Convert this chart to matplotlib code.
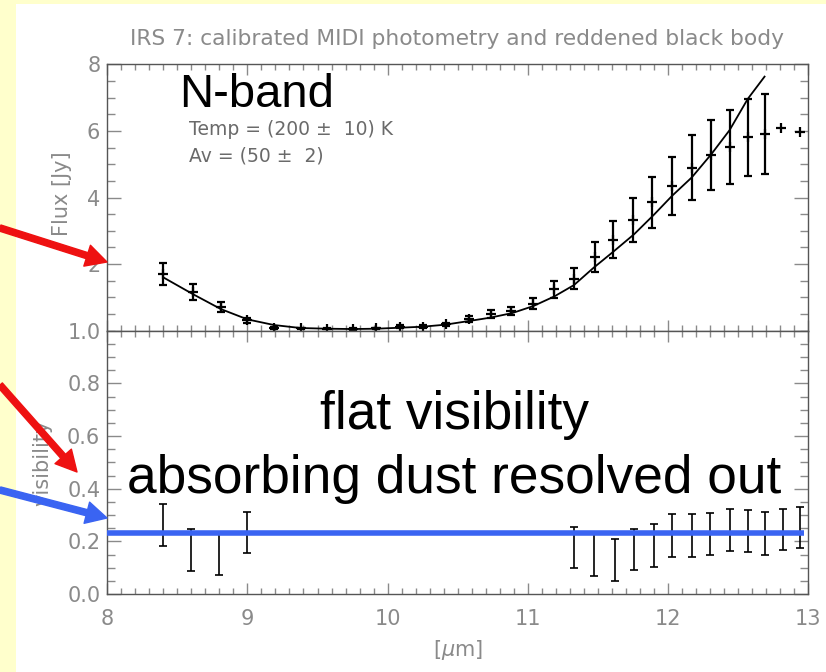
"""IRS 7 MIDI photometry with a reddened black body fit, and visibility"""

import numpy as np
import matplotlib
matplotlib.use("Agg")
from matplotlib import pyplot as plt
from matplotlib.patches import Rectangle, FancyArrowPatch
from matplotlib.ticker import MultipleLocator, FixedLocator

# Calibrated photometry (wavelength in micron, flux in Jy)
wave_phot = [8.40, 8.61, 8.81, 9.00, 9.19, 9.38, 9.57, 9.75, 9.92, 10.09,
             10.25, 10.42, 10.58, 10.74, 10.88, 11.04, 11.19, 11.33, 11.48,
             11.61, 11.75, 11.89, 12.03, 12.17, 12.31, 12.44, 12.57, 12.69,
             12.81, 12.94]
flux = [1.70, 1.17, 0.70, 0.31, 0.07, 0.07, 0.06, 0.05, 0.07, 0.12,
        0.12, 0.19, 0.36, 0.50, 0.59, 0.81, 1.24, 1.56, 2.21,
        2.73, 3.31, 3.86, 4.34, 4.89, 5.28, 5.52, 5.81, 5.91,
        6.10, 5.96]
# the last two channels have no error estimate
flux_err = [0.33, 0.24, 0.15, 0.07, 0.03, 0.02, 0.02, 0.02, 0.02, 0.04,
            0.04, 0.05, 0.09, 0.11, 0.12, 0.17, 0.26, 0.31, 0.44,
            0.55, 0.66, 0.77, 0.87, 0.98, 1.05, 1.10, 1.16, 1.19]

# Reddened black body, T = 200 K, Av = 50
model_wave = [8.40, 8.61, 8.81, 9.00, 9.19, 9.38, 9.57, 9.75, 9.92, 10.09,
              10.25, 10.41, 10.58, 10.73, 10.89, 11.04, 11.19, 11.33, 11.47,
              11.61, 11.76, 11.90, 12.03, 12.17, 12.31, 12.44, 12.57, 12.69]
model_flux = [1.60, 1.10, 0.65, 0.34, 0.17, 0.08, 0.06, 0.05, 0.06, 0.09,
              0.12, 0.18, 0.29, 0.39, 0.53, 0.74, 1.03, 1.37, 1.89,
              2.37, 2.90, 3.48, 4.05, 4.60, 5.30, 6.02, 6.96, 7.63]

# Visibility
wave_vis = [8.40, 8.60, 8.80, 9.00, 11.33, 11.47, 11.62, 11.76, 11.90,
            12.03, 12.17, 12.30, 12.44, 12.57, 12.69, 12.82, 12.94]
vis = [0.262, 0.168, 0.153, 0.234, 0.178, 0.150, 0.130, 0.169, 0.184,
       0.222, 0.222, 0.229, 0.243, 0.238, 0.230, 0.245, 0.253]
vis_err = [0.080, 0.080, 0.082, 0.079, 0.078, 0.082, 0.079, 0.078, 0.081,
           0.080, 0.080, 0.080, 0.080, 0.080, 0.081, 0.078, 0.079]
vis_level = 0.23

W, H = 826, 672
GREY = "#8a8a8a"


def fpos(x, y):
    """Pixel position -> figure fraction"""
    return x / W, 1 - y / H


def style_axes(ax):
    """IDL-like axes: inward ticks on all four sides"""
    ax.set_xlim(8, 13)
    ax.xaxis.set_major_locator(MultipleLocator(1))
    ax.xaxis.set_minor_locator(MultipleLocator(0.1))
    ax.tick_params(which="both", direction="in", top=True, right=True,
                   color=GREY, width=1, labelcolor=GREY, labelsize=15)
    ax.tick_params(axis="x", which="major", length=8, pad=11)
    ax.tick_params(axis="x", which="minor", length=4.3)
    ax.tick_params(axis="y", which="major", length=10, pad=5)
    ax.tick_params(axis="y", which="minor", length=5.5)
    for s in ax.spines.values():
        s.set_color("#555555")
        s.set_linewidth(1)


def arrow(x0, y0, x1, y1, color):
    """Slide arrow in pixel coordinates"""
    a = FancyArrowPatch(fpos(x0, y0), fpos(x1, y1),
                        transform=fig.transFigure,
                        arrowstyle="simple,head_length=1.0,head_width=1.05,"
                                   "tail_width=0.3",
                        mutation_scale=15, color=color,
                        shrinkA=0, shrinkB=0, zorder=10)
    fig.patches.append(a)


fig = plt.figure(figsize=(W / 100, H / 100), dpi=100, facecolor="#ffffcc")
fig.patches.append(Rectangle(fpos(16, H), 1 - 16 / W, 1 - 4 / H,
                             transform=fig.transFigure, facecolor="white",
                             edgecolor="none", zorder=-1))

ax1 = fig.add_axes([107.3 / W, 1 - 330.7 / H, 700.7 / W, 266.4 / H])
ax2 = fig.add_axes([107.3 / W, 1 - 594 / H, 700.7 / W, 263.3 / H])

# photometry panel
style_axes(ax1)
ax1.set_ylim(0, 8)
ax1.yaxis.set_major_locator(FixedLocator([2, 4, 6, 8]))
ax1.yaxis.set_minor_locator(MultipleLocator(0.5))
ax1.tick_params(labelbottom=False)
ax1.plot(model_wave, model_flux, color="black", lw=1.3)
n = len(flux_err)
ax1.errorbar(wave_phot[:n], flux[:n], yerr=flux_err, fmt="none",
             ecolor="black", elinewidth=1.6, capsize=3, capthick=1.6)
ax1.plot(wave_phot, flux, "+", color="black", ms=7, mew=1.6)
ax1.set_ylabel("Flux [Jy]", color=GREY, fontsize=15)
ax1.yaxis.set_label_coords(-0.0504, 0.515)

# visibility panel
style_axes(ax2)
ax2.set_ylim(0, 1)
ax2.yaxis.set_major_locator(MultipleLocator(0.2))
ax2.yaxis.set_minor_locator(MultipleLocator(0.05))
ax2.errorbar(wave_vis, vis, yerr=vis_err, fmt="none", ecolor="black",
             elinewidth=1.2, capsize=3, capthick=1.2)
ax2.hlines(vis_level, 8.0, 12.97, color="#3a64f2", lw=4, zorder=5)
ax2.set_ylabel("visibility", color=GREY, fontsize=15)
ax2.yaxis.set_label_coords(-0.079, 0.499)
ax2.set_xlabel("[$\\mu$m]", color=GREY, fontsize=15)
ax2.xaxis.set_label_coords(0.5, -0.167)

# titles and annotations
fig.text(*fpos(456.5, 45),
         "IRS 7: calibrated MIDI photometry and reddened black body",
         ha="center", va="baseline", color=GREY, fontsize=15.7)
fig.text(*fpos(179, 107), "N-band", family="Liberation Sans",
         fontsize=34, va="baseline")
fig.text(*fpos(189, 135), "Temp = (200 \u00b1  10) K", color="#6a6a6a",
         fontsize=13.5, va="baseline")
fig.text(*fpos(189, 161), "Av = (50 \u00b1  2)", color="#6a6a6a",
         fontsize=13.5, va="baseline")
fig.text(*fpos(455, 429), "flat visibility", family="Liberation Sans",
         fontsize=38.3, ha="center", va="baseline")
fig.text(*fpos(454.5, 492.7), "absorbing dust resolved out",
         family="Liberation Sans", fontsize=38.3, ha="center", va="baseline")

arrow(0, 228, 107, 262, "#ee1111")
arrow(0, 385, 77, 472, "#ee1111")
arrow(0, 490, 107, 518, "#3a64f2")

fig.savefig("out.png", dpi=100, facecolor=fig.get_facecolor())
